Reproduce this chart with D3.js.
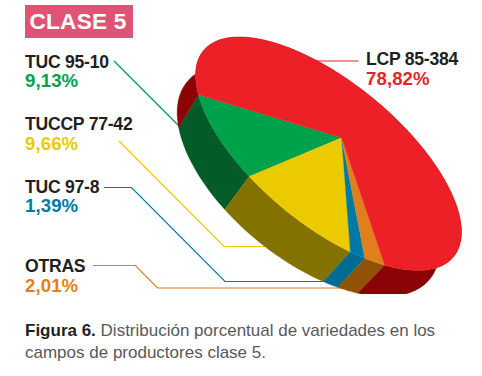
<!DOCTYPE html>
<html>
<head>
<meta charset="utf-8">
<script src="https://cdn.jsdelivr.net/npm/d3@7"></script>
<style>
  body { margin: 0; background: #fff; }
  svg { display: block; }
  text { font-family: "Liberation Sans", sans-serif; }
  .name { font-size: 17.6px; font-weight: 700; fill: #231f20; letter-spacing: -0.25px; }
  .pct { font-size: 18.6px; font-weight: 700; letter-spacing: 0.1px; }
  .caption { font-size: 17px; fill: #58595b; }
</style>
</head>
<body>
<div id="chart"></div>
<script>
(function() {
    'use strict';

    // data
    const categories = ["TUC 95-10", "TUCCP 77-42", "TUC 97-8", "OTRAS", "LCP 85-384"];
    const shares = [9.13, 9.66, 1.39, 2.01, 78.82];
    const topColors = ["#00a14b", "#ebca00", "#0079a5", "#e17f1b", "#ed1f27"];
    const wallColors = ["#035b27", "#847200", "#006b92", "#905205", "#8b0304"];

    // layout, label corner and leader path per category
    const labelX = [25, 25, 25, 25, 366];
    const nameY = [67.5, 130, 192.5, 272, 65];
    const pctY = [86.5, 149.5, 212, 292, 84.5];
    const leaders = [
        [[114, 61], [190, 137]],
        [[119, 141], [224, 246.5], [275, 246.5]],
        [[104, 187.5], [131.5, 187.5], [225, 281.5], [340, 281.5]],
        [[93, 265.5], [135.5, 265.5], [157.5, 288], [355, 288]],
        [[300, 61], [358.5, 61]]
    ];

    const width = 482;
    const height = 376;

    // the pie is a circle seen in perspective: ellipse on screen, apex off its centre
    const center = [328.5, 153.7];
    const semiMajor = 162;
    const semiMinor = 71;
    const tilt = 39.5 * Math.PI / 180;
    const apexShift = -0.29;
    const firstAngle = 135 * Math.PI / 180;

    const ux = Math.cos(tilt), uy = Math.sin(tilt);

    function project(x, y) {
        const w = 1 + apexShift * y;
        const X = x * Math.sqrt(1 - apexShift * apexShift) / w * semiMajor;
        const Y = (y + apexShift) / w * semiMinor;
        return [center[0] + X * ux - Y * uy, center[1] + X * uy + Y * ux];
    }

    function rimPoint(angle) {
        return project(Math.cos(angle), Math.sin(angle));
    }

    // lower rim of the wall, the drop changes a bit around the pie
    function toBottom(p) {
        const dx = p[0] - 200, dy = p[1] - 99;
        return [
            p[0] - 20 + 0.033 * dx - 0.079 * dy,
            p[1] + 33 - 0.067 * dx + 0.044 * dy
        ];
    }

    function rimArc(a0, a1) {
        const n = Math.max(2, Math.ceil(Math.abs(a1 - a0) * 40));
        return d3.range(n + 1).map(i => rimPoint(a0 + (a1 - a0) * i / n));
    }

    const pie = d3.pie()
        .sort(null)
        .startAngle(firstAngle)
        .endAngle(firstAngle - 2 * Math.PI);

    const slices = pie(shares);
    const line = d3.line();
    const pctFormat = d3.formatLocale({ decimal: ",", thousands: ".", grouping: [3], currency: ["", ""] }).format(".2f");

    const svg = d3.select("#chart")
        .append("svg")
        .attr("width", width)
        .attr("height", height);

    svg.append("clipPath")
        .attr("id", "pieClip")
        .append("rect")
        .attr("width", width)
        .attr("height", 294);

    // TITLE
    svg.append("rect")
        .attr("x", 25)
        .attr("y", 5)
        .attr("width", 108)
        .attr("height", 33)
        .attr("fill", "#df5474");

    svg.append("text")
        .attr("x", 29.5)
        .attr("y", 28.5)
        .attr("font-size", "22.6px")
        .attr("font-weight", "700")
        .attr("letter-spacing", "0.25px")
        .attr("fill", "#fff")
        .text("CLASE 5");

    // LEADERS
    svg.append("g")
        .selectAll("path")
        .data(leaders)
        .join("path")
        .attr("d", d => line(d))
        .attr("fill", "none")
        .attr("stroke", (d, i) => topColors[i])
        .attr("stroke-width", 1.2);

    // PIE
    const pieGroup = svg.append("g").attr("clip-path", "url(#pieClip)");

    pieGroup.append("g")
        .selectAll("path")
        .data(slices)
        .join("path")
        .attr("d", d => {
            const arc = rimArc(d.startAngle, d.endAngle);
            return line(arc.concat(arc.map(toBottom).reverse())) + "Z";
        })
        .attr("fill", (d, i) => wallColors[i])
        .attr("stroke", (d, i) => wallColors[i])
        .attr("stroke-width", 0.3);

    pieGroup.append("g")
        .selectAll("path")
        .data(slices)
        .join("path")
        .attr("d", d => line([project(0, 0)].concat(rimArc(d.startAngle, d.endAngle))) + "Z")
        .attr("fill", (d, i) => topColors[i])
        .attr("stroke", (d, i) => topColors[i])
        .attr("stroke-width", 0.3);

    // LABELS
    svg.append("g")
        .selectAll("text")
        .data(categories)
        .join("text")
        .attr("class", "name")
        .attr("x", (d, i) => labelX[i])
        .attr("y", (d, i) => nameY[i])
        .text(d => d);

    svg.append("g")
        .selectAll("text")
        .data(shares)
        .join("text")
        .attr("class", "pct")
        .attr("x", (d, i) => labelX[i])
        .attr("y", (d, i) => pctY[i])
        .attr("fill", (d, i) => topColors[i])
        .text(d => pctFormat(d) + "%");

    // CAPTION
    const caption = svg.append("text")
        .attr("class", "caption")
        .attr("x", 25)
        .attr("y", 336);

    caption.append("tspan")
        .attr("font-weight", "700")
        .attr("fill", "#231f20")
        .text("Figura 6.");

    caption.append("tspan")
        .text(" Distribución porcentual de variedades en los");

    svg.append("text")
        .attr("class", "caption")
        .attr("x", 25)
        .attr("y", 358)
        .text("campos de productores clase 5.");
})();
</script>
</body>
</html>
